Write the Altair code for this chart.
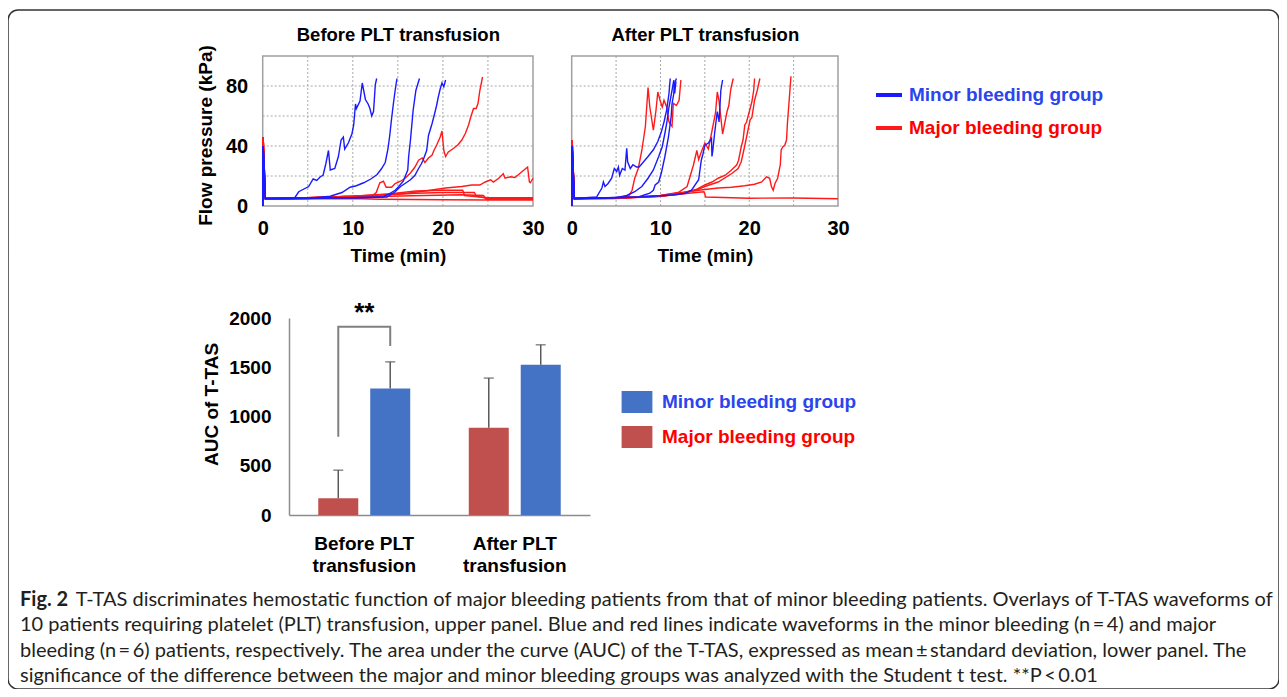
import altair as alt
import pandas as pd

# ---------------- data ----------------
GROUPS = ["Minor bleeding group", "Major bleeding group"]
LINE_COLORS = ["#1a1aff", "#ff1a1a"]
BAR_COLORS = ["#4472C4", "#C0504D"]

time_ticks = [0, 10, 20, 30]
pressure_ticks = [0, 40, 80]
grid_t = [5, 10, 15, 20, 25]
grid_p = [20, 40, 60, 80]

before_minor = [
    [(0, 0), (0.05, 40), (0.3, 5), (3.5, 5), (4.0, 9.5), (5.1, 13), (5.6, 18), (6.0, 17), (6.4, 19.5), (6.7, 20.5),
     (7.0, 28), (7.3, 37), (7.5, 24), (8.0, 25), (8.4, 33), (8.7, 44), (8.95, 46), (9.1, 38), (9.5, 42), (9.9, 48),
     (10.1, 54), (10.3, 68), (10.4, 65), (10.8, 70), (11.05, 82), (11.4, 71), (11.7, 68), (11.9, 65), (12.1, 60),
     (12.3, 63), (12.5, 81), (12.65, 85)],
    [(0, 0), (0.05, 40), (0.3, 5), (5, 5), (7.5, 6.5), (8.8, 9), (9.7, 12.5), (10.4, 13.5), (11.2, 15.5), (12.0, 18),
     (12.7, 21), (13.2, 25), (13.6, 29), (13.9, 38), (14.1, 47), (14.3, 58), (14.5, 68), (14.7, 77), (14.9, 85)],
    [(0, 0), (0.05, 40), (0.3, 5), (10, 5.5), (13.3, 6), (14.0, 8), (14.7, 10.5), (15.1, 13), (15.6, 16.5),
     (15.9, 21), (16.1, 24), (16.2, 33), (16.4, 44), (16.55, 54), (16.7, 64), (17.0, 77), (17.4, 85)],
    [(0, 0), (0.05, 40), (0.3, 5), (10, 5.5), (13.8, 6), (14.7, 9.5), (15.3, 13), (15.8, 15), (16.4, 17.5),
     (16.9, 20.5), (17.3, 25), (17.6, 28), (17.8, 30.5), (18.2, 37), (18.4, 47), (18.8, 55), (19.1, 62), (19.3, 67),
     (19.5, 73), (19.7, 78), (19.9, 82), (20.1, 79.5), (20.3, 84)],
]
before_major = [
    [(0, 0), (0.05, 46), (0.3, 5), (5, 5.5), (10, 6.5), (12.2, 7), (12.6, 9), (13.0, 15.5), (13.4, 16.5), (13.7, 12.5),
     (14.3, 12.5), (14.7, 15), (15.3, 16.5), (15.8, 18.5), (16.4, 22), (16.9, 26), (17.3, 30.5), (17.7, 32), (18.0, 29),
     (18.4, 32), (18.8, 34), (19.0, 37), (19.3, 40.5), (19.7, 46), (19.9, 50), (20.1, 37), (20.3, 33), (20.6, 36),
     (21.2, 38.5), (21.7, 41), (22.1, 44), (22.5, 48.5), (22.85, 54), (23.1, 59.5), (23.4, 65), (23.7, 65),
     (23.9, 68.5), (24.1, 77), (24.4, 86)],
    [(0, 0), (0.05, 46), (0.3, 5), (5, 5.5), (10, 6.5), (13, 7.5), (16, 8.5), (18, 10), (20.3, 12), (22.1, 13),
     (23.2, 14), (24.1, 14), (24.7, 16), (25.3, 17.5), (25.6, 16), (26.2, 18.5), (26.7, 21.5), (26.9, 18.5),
     (27.5, 19.5), (28.0, 19), (28.6, 22), (29.1, 24.5), (29.4, 26), (29.6, 16), (29.7, 15.5), (30, 18.5)],
    [(0, 0), (0.05, 46), (0.3, 5), (5, 5.5), (10, 6.5), (14, 8), (17, 10), (20, 10.5), (22.2, 10.5), (22.4, 7),
     (25, 5.5), (30, 5.5)],
    [(0, 0), (0.05, 46), (0.3, 5), (5, 5.5), (10, 6.5), (14, 7.5), (17, 8.5), (20, 9), (23.5, 9), (23.7, 6.5),
     (25, 5), (30, 5)],
    [(0, 0), (0.05, 46), (0.3, 4.5), (5, 5), (10, 6), (14, 6.5), (18, 7), (22, 7.5), (24.5, 7), (24.8, 4.5),
     (30, 4.5)],
    [(0, 0), (0.05, 46), (0.3, 4.5), (10, 5), (13, 4.5), (20, 4.2), (25, 4), (30, 4)],
]
after_minor = [
    [(0, 0), (0.05, 40), (0.3, 5), (2.8, 6), (3.4, 12), (3.57, 16), (3.75, 13), (4.1, 15), (4.5, 18.5), (4.8, 25),
     (5.07, 23), (5.26, 26), (5.4, 20.5), (5.7, 25), (6.0, 24), (6.2, 38.5), (6.3, 29.5), (6.6, 25), (6.9, 27.5),
     (7.3, 26), (7.6, 26), (8.1, 29.5), (8.6, 33), (9.2, 37.5), (9.7, 43), (10.1, 49.5), (10.4, 56), (10.7, 64),
     (10.96, 75), (11.1, 85)],
    [(0, 0), (0.05, 40), (0.3, 5), (5, 5.5), (6.2, 7), (7.1, 9.5), (7.9, 13), (8.6, 18.5), (9.2, 24), (9.8, 33),
     (10.2, 39.5), (10.5, 48.5), (10.7, 55), (10.96, 66), (11.3, 77), (11.5, 84), (11.6, 75), (11.75, 83)],
    [(0, 0), (0.05, 40), (0.3, 5), (7.5, 6), (8.8, 8.5), (9.2, 10.5), (9.4, 14), (9.8, 16), (10.1, 22), (10.5, 33),
     (10.9, 46), (11.2, 59.5), (11.3, 68), (11.5, 75), (11.6, 82), (11.8, 85)],
    [(0, 0), (0.05, 40), (0.3, 5), (8, 6), (11.6, 7.5), (12.8, 8.5), (13.5, 10.5), (14.3, 17.5), (14.6, 30.5),
     (14.8, 35), (15.0, 40.5), (15.4, 42), (15.75, 45), (15.8, 33), (15.9, 37), (16.1, 48.5), (16.4, 63), (16.6, 56),
     (16.8, 77), (17.0, 84)],
]
after_major = [
    [(0, 0), (0.05, 44), (0.3, 5), (5, 5.5), (6.4, 6.5), (6.8, 10.5), (7.1, 18.5), (7.5, 25), (7.9, 37), (8.3, 53),
     (8.6, 79), (8.8, 66), (9.2, 50.5), (9.5, 64), (9.7, 76), (9.95, 70.5), (10.2, 66), (10.4, 70.5), (10.7, 66),
     (10.96, 56), (11.3, 53), (11.45, 68.5), (11.8, 67), (12.1, 70.5), (12.3, 84)],
    [(0, 0), (0.05, 44), (0.3, 5), (6, 5.5), (10, 7), (12, 9), (13, 13), (13.7, 27), (14.1, 37), (14.3, 31),
     (14.6, 36), (15.0, 42), (15.4, 38), (15.8, 50), (16.2, 62), (16.4, 76), (16.6, 70), (17.0, 48), (17.3, 57),
     (17.5, 63), (17.7, 67), (17.9, 77), (18.0, 80), (18.2, 85)],
    [(0, 0), (0.05, 44), (0.3, 5), (6, 5.5), (10, 6.5), (12, 8), (14, 11), (15.0, 14), (15.8, 16), (16.5, 18.5),
     (17.3, 20.5), (18.0, 24), (18.6, 27.5), (18.8, 30.5), (18.95, 35), (19.1, 39.5), (19.3, 44), (19.5, 54),
     (19.7, 56), (19.9, 60.5), (20.3, 69.5), (20.5, 77), (20.6, 85)],
    [(0, 0), (0.05, 44), (0.3, 5), (6, 5.5), (10, 6.5), (12, 8), (14, 10.5), (15.0, 13), (16.5, 16), (18.0, 21.5),
     (18.75, 25), (19.1, 29.5), (19.4, 37.5), (19.7, 46), (20.1, 57.5), (20.3, 59), (20.6, 70.5), (20.9, 77),
     (21.2, 85)],
    [(0, 0), (0.05, 44), (0.3, 5), (6, 5.5), (10, 7), (13, 9.5), (15, 11), (16.5, 12), (18, 12.5), (19.5, 13.5),
     (20.6, 14.5), (21.4, 16), (21.96, 19.5), (22.3, 18.5), (22.5, 13), (22.7, 10.5), (22.9, 15), (23.2, 18.5),
     (23.5, 27.5), (23.6, 37.5), (23.8, 39.5), (24.0, 40.5), (24.2, 44), (24.3, 55), (24.5, 70.5), (24.7, 86.5)],
    [(0, 0), (0.05, 44), (0.3, 4.5), (5, 5), (10, 6.5), (14, 9), (14.9, 9.5), (15.1, 6), (20, 5.2), (25, 5.3),
     (30, 4.8)],
]

bar_periods = ["Before PLT|transfusion", "After PLT|transfusion"]
major_mean = [170, 885]
major_upper = [455, 1390]
minor_mean = [1285, 1525]
minor_upper = [1555, 1728]
auc_ticks = [0, 500, 1000, 1500, 2000]
bracket_groups = ["Major bleeding group", "Major bleeding group", "Minor bleeding group", "Minor bleeding group"]
bracket_values = [795, 1912, 1912, 1716]
sig_label = "**"
sig_value = 2050

caption_title = "Fig. 2"
NB = "\u00a0"
caption_lines = [
    "\u200b" + NB * 11 + "T-TAS discriminates hemostatic function of major bleeding patients from that of minor bleeding patients. Overlays of T-TAS waveforms of",
    "10 patients requiring platelet (PLT) transfusion, upper panel. Blue and red lines indicate waveforms in the minor bleeding (n\u2009=\u20094) and major",
    "bleeding (n\u2009=\u20096) patients, respectively. The area under the curve (AUC) of the T-TAS, expressed as mean\u2009\u00b1\u2009standard deviation, lower panel. The",
    "significance of the difference between the major and minor bleeding groups was analyzed with the Student t test. **P\u2009<\u20090.01",
]

# ---------------- tables ----------------
def curves_df(minor, major):
    rows = []
    for gname, series_list in ((GROUPS[1], major), (GROUPS[0], minor)):
        for k, pts in enumerate(series_list):
            for i, (t, v) in enumerate(pts):
                rows.append(dict(series=f"{gname}-{k}", group=gname, t=t, v=v, i=i))
    return pd.DataFrame(rows)

before_df = curves_df(before_minor, before_major)
after_df = curves_df(after_minor, after_major)

bar_rows = []
for p, mm, mu, nm, nu in zip(bar_periods, major_mean, major_upper, minor_mean, minor_upper):
    bar_rows.append(dict(period=p, group=GROUPS[1], mean=mm, upper=mu))
    bar_rows.append(dict(period=p, group=GROUPS[0], mean=nm, upper=nu))
bar_df = pd.DataFrame(bar_rows)
bracket_df = pd.DataFrame(dict(period=[bar_periods[0]] * 4, group=bracket_groups, value=bracket_values,
                               seq=list(range(4))))
sig_df = pd.DataFrame(dict(period=[bar_periods[0]], value=[sig_value], label=[sig_label]))

FONT = "Liberation Sans"
W, H = 1271, 679
LINE_Y_RANGE = [196, 46]


def line_panel(df, title, xr, show_y, legend):
    xs = alt.Scale(domain=[0, 30], range=xr, nice=False, zero=False)
    ys = alt.Scale(domain=[0, 100], range=LINE_Y_RANGE, nice=False, zero=False)
    gx = alt.Chart(pd.DataFrame({"t": grid_t})).mark_rule(color="#a8a8a8", strokeDash=[2, 2], strokeWidth=1).encode(
        x=alt.X("t:Q", scale=xs, axis=alt.Axis(orient="bottom", offset=-(H - LINE_Y_RANGE[0]), values=time_ticks,
                                              title="Time (min)", domain=False, ticks=False, grid=False,
                                              labelPadding=12, titlePadding=8, labelFlush=False)),
        y=alt.YDatum(0, scale=ys, axis=None),
        y2=alt.Y2Datum(100),
    )
    yaxis = None
    if show_y:
        yaxis = alt.Axis(orient="left", offset=-xr[0], values=pressure_ticks, title="Flow pressure (kPa)",
                         domain=False, ticks=False, grid=False, labelPadding=15, titlePadding=10, titleY=125)
    gy = alt.Chart(pd.DataFrame({"p": grid_p})).mark_rule(color="#a8a8a8", strokeDash=[2, 2], strokeWidth=1).encode(
        y=alt.Y("p:Q", scale=ys, axis=yaxis),
        x=alt.XDatum(0, scale=xs, axis=None),
        x2=alt.X2Datum(30),
    )
    frame = alt.Chart(pd.DataFrame({"a": [0]})).mark_rect(fillOpacity=0, stroke="#a0a0a0", strokeWidth=1.5).encode(
        x=alt.XDatum(0, scale=xs, axis=alt.Axis(orient="top", offset=-LINE_Y_RANGE[1], title=title, labels=False,
                                                ticks=False, domain=False, grid=False, titlePadding=12,
                                                titleFontSize=18.5)),
        x2=alt.X2Datum(30),
        y=alt.YDatum(0, scale=ys, axis=None),
        y2=alt.Y2Datum(100),
    )
    lines = alt.Chart(df).mark_line(strokeWidth=1.4).encode(
        x=alt.X("t:Q", scale=xs, axis=None),
        y=alt.Y("v:Q", scale=ys, axis=None),
        color=alt.Color("group:N", scale=alt.Scale(domain=GROUPS, range=LINE_COLORS), legend=legend),
        detail="series:N",
        order="i:Q",
    )
    return alt.layer(gx, gy, frame, lines).resolve_axis(x="independent", y="independent")


label_color_expr = {"expr": "datum.label == 'Minor bleeding group' ? '#2b45ee' : '#ff0000'"}

line_legend = alt.Legend(orient="none", legendX=866, legendY=70, title=None, symbolType="stroke", symbolSize=676,
                         symbolStrokeWidth=4, labelFont=FONT, labelFontWeight="bold", labelFontSize=19,
                         labelColor=label_color_expr, labelOffset=5, rowPadding=8, labelLimit=400)

p1 = line_panel(before_df, "Before PLT transfusion", [254.7, 525.0], True, line_legend)
p2 = line_panel(after_df, "After PLT transfusion", [563.7, 830.0], False, None)

# ---------------- bar panel ----------------
bx = alt.Scale(domain=bar_periods, range=[281, 582], paddingInner=0.389, paddingOuter=0.1945)
by = alt.Scale(domain=[0, 2000], range=[505, 308], nice=False, zero=False)
bo = alt.Scale(domain=[GROUPS[1], GROUPS[0]], paddingInner=0.23, paddingOuter=0)

bar_legend = alt.Legend(orient="none", legendX=618, legendY=381, title=None, symbolType="M-1.4,-1H1.4V1H-1.4Z",
                        symbolSize=484, symbolStrokeWidth=0, labelFont=FONT, labelFontWeight="bold",
                        labelFontSize=19, labelColor=label_color_expr, labelOffset=14, rowPadding=13,
                        labelLimit=400)

bars = alt.Chart(bar_df).mark_bar().encode(
    x=alt.X("period:N", scale=bx, axis=alt.Axis(orient="bottom", offset=-(H - 505), title=None, ticks=False,
                                                labelExpr="split(datum.label, '|')", labelLineHeight=22,
                                                labelPadding=19, labelAngle=0, domainColor="#8c8c8c",
                                                domainWidth=1.5, labelFontSize=19)),
    xOffset=alt.XOffset("group:N", scale=bo),
    y=alt.Y("mean:Q", scale=by, axis=alt.Axis(orient="left", offset=-281, values=auc_ticks, title="AUC of T-TAS",
                                              format="d", ticks=False, grid=False, domainColor="#8c8c8c",
                                              domainWidth=1.5, labelPadding=18, titlePadding=7, titleY=394,
                                              labelFontSize=19)),
    color=alt.Color("group:N", scale=alt.Scale(domain=GROUPS, range=BAR_COLORS), legend=bar_legend),
)
err = alt.Chart(bar_df).mark_rule(color="#595959", strokeWidth=1.5).encode(
    x=alt.X("period:N", scale=bx, axis=None),
    xOffset=alt.XOffset("group:N", scale=bo),
    y=alt.Y("mean:Q", scale=by, axis=None),
    y2="upper:Q",
)
caps = alt.Chart(bar_df).mark_tick(color="#595959", thickness=1.5, size=10).encode(
    x=alt.X("period:N", scale=bx, axis=None),
    xOffset=alt.XOffset("group:N", scale=bo),
    y=alt.Y("upper:Q", scale=by, axis=None),
)
bracket = alt.Chart(bracket_df).mark_line(color="#808080", strokeWidth=2).encode(
    x=alt.X("period:N", scale=bx, axis=None),
    xOffset=alt.XOffset("group:N", scale=bo),
    y=alt.Y("value:Q", scale=by, axis=None),
    order="seq:Q",
)
sig = alt.Chart(sig_df).mark_text(font=FONT, fontWeight="bold", fontSize=26, color="#000").encode(
    x=alt.X("period:N", scale=bx, axis=None),
    y=alt.Y("value:Q", scale=by, axis=None),
    text="label:N",
)
p3 = alt.layer(bars, err, caps, bracket, sig).resolve_axis(x="independent", y="independent")

chart = alt.layer(p1, p2, p3).resolve_scale(
    x="independent", y="independent", color="independent"
).properties(
    width=W, height=H,
    padding={"left": 0, "top": 2, "right": 0, "bottom": 0},
    autosize=alt.AutoSizeParams(type="none"),
    title=alt.TitleParams(
        text=caption_title, subtitle=caption_lines, orient="bottom", anchor="start", frame="group",
        offset=-99, dx=12, font="Lato", fontSize=20, fontWeight="bold", color="#231f20",
        subtitleFont="Lato", subtitleFontSize=20, subtitleFontWeight="normal", subtitleColor="#231f20",
        subtitleLineHeight=25.3, subtitlePadding=-20, baseline="top",
    ),
).configure_view(
    stroke="#333333", strokeWidth=1.5, cornerRadius=10
).configure_axis(
    labelFont=FONT, labelFontWeight="bold", labelFontSize=20, labelColor="#000",
    titleFont=FONT, titleFontWeight="bold", titleFontSize=19, titleColor="#000",
)

chart.save("out.html", embed_options={"renderer": "svg", "actions": False})
